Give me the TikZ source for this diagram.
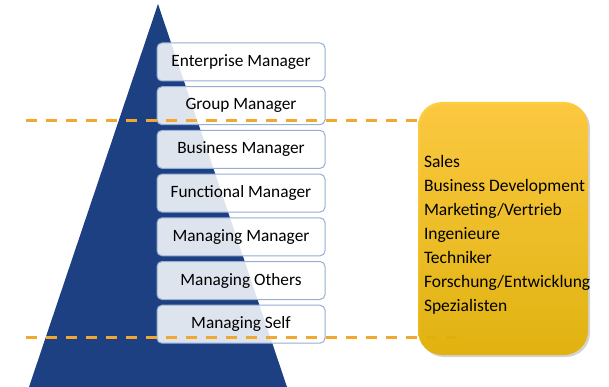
\documentclass[tikz,border=0pt]{standalone}
\usepackage{fontspec}
\setmainfont{Carlito}
\usetikzlibrary{ % tikz packages
    positioning,shadows
}
\definecolor{pyramidBlue}{RGB}{28,64,130}
\definecolor{boxEdge}{RGB}{150,174,212}
\definecolor{dashOrange}{RGB}{240,168,48}
\definecolor{sideTop}{RGB}{255,200,52}
\definecolor{sideBottom}{RGB}{226,176,0}
\tikzset{level/.style={
    draw=boxEdge,
    line width=1pt,
    fill=white,
    fill opacity=0.86,
    text opacity=1,
    rounded corners=5pt,
    minimum width=168pt,
    minimum height=38pt,
    font=\fontsize{17.3}{20}\selectfont
}}
\tikzset{cut/.style={
    draw=dashOrange,
    line width=3pt,
    dash pattern=on 11pt off 9pt
}}

\begin{document}
\begin{tikzpicture}[x=1pt,y=-1pt,node distance=43.7pt,on grid]
        \useasboundingbox (0,0) rectangle (609,387);

        % pyramid
        \fill[pyramidBlue] (158,4) -- (287,387) -- (29,387) -- cycle;

        \node[level] (ent) at (241,62) {Enterprise Manager};
        \node[level] (grp) [below=of ent] {Group Manager};
        \node[level] (bus) [below=of grp] {Business Manager};
        \node[level] (fun) [below=of bus] {Functional Manager};
        \node[level] (mgm) [below=of fun] {Managing Manager};
        \node[level] (oth) [below=of mgm] {Managing Others};
        \node[level] (slf) [below=of oth] {Managing Self};

        % side box
        \coordinate (sideC) at (503,228.5);
        \coordinate (upL) at (26,121);
        \coordinate (loL) at (26,337);
        \coordinate (loR) at (465,337);

        \draw[cut] (upL) -- (upL -| 418,0);
        \draw[cut] (loL) -- (loR);

        \node[draw=none, rounded corners=24pt, minimum width=170pt,
              minimum height=253pt, top color=sideTop, bottom color=sideBottom,
              opacity=0.92, drop shadow={opacity=0.35,shadow xshift=2pt,shadow yshift=-2pt}]
            (side) at (sideC) {};
        \node[align=left, anchor=west, inner sep=0pt,
              font=\fontsize{17.5}{24}\selectfont]
            (roles) at ([xshift=6pt,yshift=-6.5pt]side.west)
            {Sales\\Business Development\\Marketing/Vertrieb\\Ingenieure\\Techniker\\Forschung/Entwicklung\\Spezialisten};
    \end{tikzpicture}
\end{document}
